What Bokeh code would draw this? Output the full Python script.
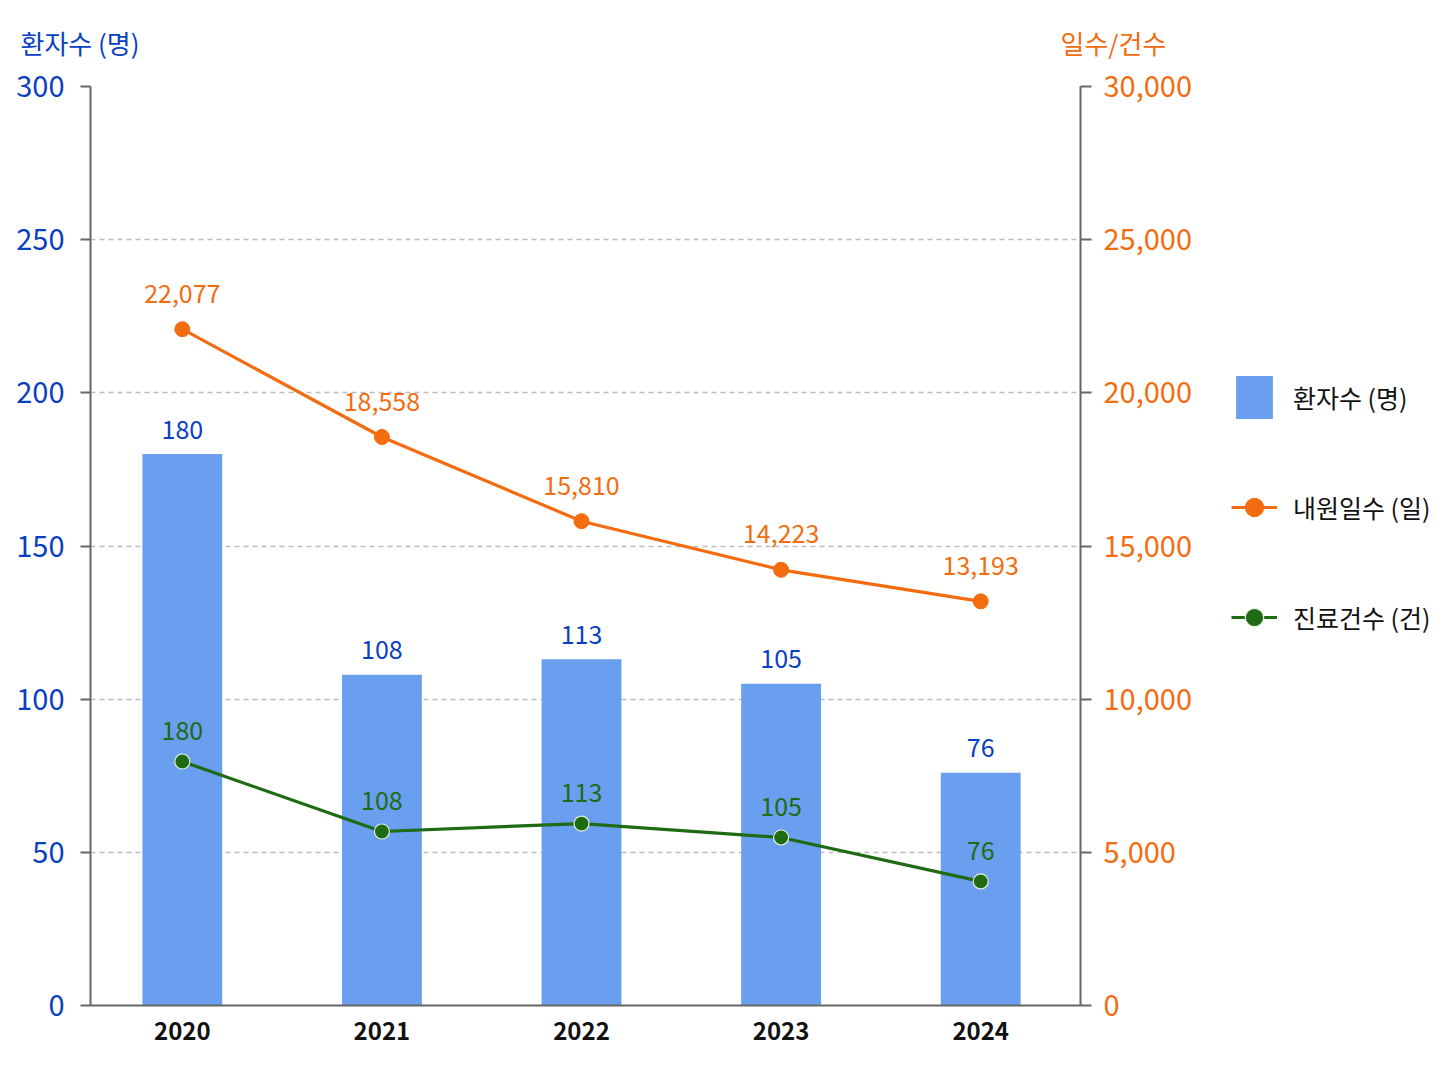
from bokeh.plotting import figure
from bokeh.layouts import row
from bokeh.models import (ColumnDataSource, Range1d, LinearAxis, FixedTicker,
                          NumeralTickFormatter, Legend, LegendItem, Label)
from bokeh.core.properties import value
from bokeh.embed import file_html
from bokeh.resources import INLINE

# ---- data ----
years = [2020, 2021, 2022, 2023, 2024]
year_labels = ["2020", "2021", "2022", "2023", "2024"]
patients = [180, 108, 113, 105, 76]
patient_labels = ["180", "108", "113", "105", "76"]
visit_days = [22077, 18558, 15810, 14223, 13193]
visit_labels = ["22,077", "18,558", "15,810", "14,223", "13,193"]
treat_pos = [7965, 5680, 5940, 5485, 4050]
treat_labels = ["180", "108", "113", "105", "76"]
left_ticks = [0, 50, 100, 150, 200, 250, 300]
right_ticks = [0, 5000, 10000, 15000, 20000, 25000, 30000]
series_names = ["환자수 (명)", "내원일수 (일)", "진료건수 (건)"]

FONT = "'Noto Sans CJK KR', sans-serif"
BLUE_TXT = "#0b3fc1"
BAR = "#6a9eee"
ORANGE = "#f36c10"
GREEN = "#1e6b14"
AXIS = "#666666"

src = ColumnDataSource(dict(x=years, patients=patients, plab=patient_labels,
                            visit=visit_days, vlab=visit_labels,
                            treat=treat_pos, tlab=treat_labels))

PW, QW, H = 1196, 240, 1070

p = figure(width=PW, height=H, x_range=Range1d(2019.54, 2024.5),
           y_range=Range1d(0, 300), output_backend="svg", toolbar_location=None,
           min_border_left=90, min_border_right=PW - 1080, min_border_top=86,
           min_border_bottom=H - 1005)
p.outline_line_color = None
p.extra_y_ranges = {"right": Range1d(0, 30000)}

# axes
p.xaxis.ticker = FixedTicker(ticks=years)
p.xaxis.major_label_overrides = {y: l for y, l in zip(years, year_labels)}
p.xaxis.major_tick_out = 0
p.xaxis.major_tick_in = 0
p.xaxis.minor_tick_out = 0
p.xaxis.minor_tick_in = 0
p.xaxis.axis_line_color = AXIS
p.xaxis.axis_line_width = 2
p.xaxis.major_label_text_font = FONT
p.xaxis.major_label_text_font_size = "24px"
p.xaxis.major_label_text_font_style = "bold"
p.xaxis.major_label_text_color = "#111111"
p.xaxis.major_label_standoff = 16

p.yaxis.ticker = FixedTicker(ticks=left_ticks)
p.yaxis.axis_line_color = AXIS
p.yaxis.axis_line_width = 2
p.yaxis.major_tick_line_color = AXIS
p.yaxis.major_tick_line_width = 2
p.yaxis.major_tick_out = 10
p.yaxis.major_tick_in = 0
p.yaxis.minor_tick_out = 0
p.yaxis.minor_tick_in = 0
p.yaxis.major_label_text_font = FONT
p.yaxis.major_label_text_font_size = "29px"
p.yaxis.major_label_text_color = BLUE_TXT
p.yaxis.major_label_standoff = 16

raxis = LinearAxis(y_range_name="right", ticker=FixedTicker(ticks=right_ticks),
                   formatter=NumeralTickFormatter(format="0,0"))
raxis.axis_line_color = AXIS
raxis.axis_line_width = 2
raxis.major_tick_line_color = AXIS
raxis.major_tick_line_width = 2
raxis.major_tick_out = 11
raxis.major_tick_in = 0
raxis.minor_tick_out = 0
raxis.minor_tick_in = 0
raxis.major_label_text_font = FONT
raxis.major_label_text_font_size = "29px"
raxis.major_label_text_color = ORANGE
raxis.major_label_standoff = 12
p.add_layout(raxis, "right")

p.xgrid.visible = False
p.ygrid.ticker = FixedTicker(ticks=left_ticks)
p.ygrid.grid_line_color = "#bdbdbd"
p.ygrid.grid_line_dash = "5 4"
p.ygrid.grid_line_width = 1.3

# glyphs
p.vbar(x="x", top="patients", width=0.4, source=src, fill_color=BAR,
       line_color=None)
p.line(x="x", y="visit", source=src, y_range_name="right",
       line_color=ORANGE, line_width=3.2)
p.scatter(x="x", y="visit", source=src, y_range_name="right", size=15,
          fill_color=ORANGE, line_color=ORANGE)
p.line(x="x", y="treat", source=src, y_range_name="right",
       line_color=GREEN, line_width=3.2)
p.scatter(x="x", y="treat", source=src, y_range_name="right", size=15,
          fill_color=GREEN, line_color="#e6eedd", line_width=1.2)

# value labels
p.text(x="x", y="patients", text="plab", source=src, text_align="center",
       text_baseline="alphabetic", y_offset=-25, text_font=value(FONT),
       text_font_size="25px", text_color=BLUE_TXT)
p.text(x="x", y="visit", text="vlab", source=src, y_range_name="right",
       text_align="center", text_baseline="alphabetic", y_offset=-36,
       text_font=value(FONT), text_font_size="25px", text_color=ORANGE)
p.text(x="x", y="treat", text="tlab", source=src, y_range_name="right",
       text_align="center", text_baseline="alphabetic", y_offset=-31,
       text_font=value(FONT), text_font_size="25px", text_color=GREEN)

# axis titles
p.add_layout(Label(x=-70, y=44, x_units="screen", y_units="screen",
                   text="환자수 (명)", text_baseline="middle", text_align="left",
                   text_font=FONT, text_font_size="26px", text_color=BLUE_TXT),
             "above")
p.add_layout(Label(x=970, y=7, x_units="screen", y_units="screen",
                   text="일수/건수", text_baseline="middle", text_align="left",
                   text_font=FONT, text_font_size="26px", text_color=ORANGE),
             "above")

# legend panel (swatches drawn from the same renderers' styles)
q = figure(width=QW, height=H, x_range=Range1d(0, 1), y_range=Range1d(0, 1),
           output_backend="svg", toolbar_location=None,
           x_axis_location=None, y_axis_location=None, min_border=0)
q.outline_line_color = None
q.grid.visible = False
q.background_fill_alpha = 0
q.border_fill_alpha = 0
lb = q.vbar(x="x", top="patients", width=0.4, source=src, fill_color=BAR,
            line_color=None)
lo1 = q.line(x="x", y="visit", source=src, line_color=ORANGE, line_width=3.2)
lo2 = q.scatter(x="x", y="visit", source=src, size=15, fill_color=ORANGE,
                line_color=ORANGE)
lg1 = q.line(x="x", y="treat", source=src, line_color=GREEN, line_width=3.2)
lg2 = q.scatter(x="x", y="treat", source=src, size=15, fill_color=GREEN,
                line_color="#e6eedd", line_width=1.2)

legend = Legend(items=[
    LegendItem(label=series_names[0], renderers=[lb]),
    LegendItem(label=series_names[1], renderers=[lo1, lo2]),
    LegendItem(label=series_names[2], renderers=[lg1, lg2]),
], location=(35, 1005 - 644), orientation="vertical")
legend.glyph_width = 46
legend.glyph_height = 54
legend.spacing = 56
legend.label_standoff = 16
legend.label_text_font = FONT
legend.label_text_font_size = "25px"
legend.label_text_color = "#111111"
legend.padding = 0
legend.margin = 0
legend.border_line_color = None
legend.background_fill_alpha = 0
q.add_layout(legend, "center")

layout = row(p, q)
open("out.html", "w").write(file_html(layout, INLINE))
